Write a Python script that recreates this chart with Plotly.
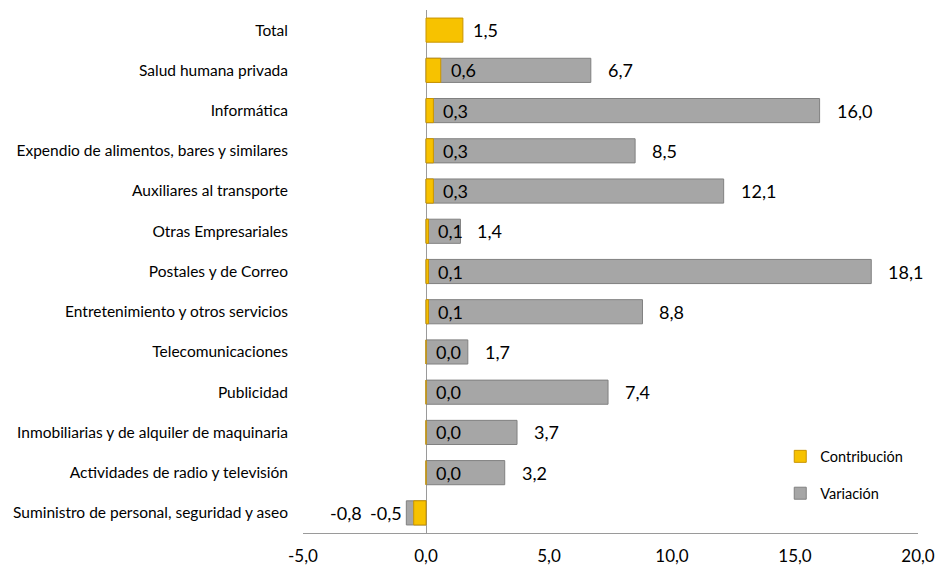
import plotly.graph_objects as go

categorias = [
    "Total",
    "Salud humana privada",
    "Informática",
    "Expendio de alimentos, bares y similares",
    "Auxiliares al transporte",
    "Otras Empresariales",
    "Postales y de Correo",
    "Entretenimiento y otros servicios",
    "Telecomunicaciones",
    "Publicidad",
    "Inmobiliarias y de alquiler de maquinaria",
    "Actividades de radio y televisión",
    "Suministro de personal, seguridad y aseo",
]
variacion = [None, 6.7, 16.0, 8.5, 12.1, 1.4, 18.1, 8.8, 1.7, 7.4, 3.7, 3.2, -0.8]
contribucion = [1.5, 0.6, 0.3, 0.3, 0.3, 0.1, 0.1, 0.1, 0.0, 0.0, 0.0, 0.0, -0.5]
x_ticks = [-5, 0, 5, 10, 15, 20]
x_ticktext = ["-5,0", "0,0", "5,0", "10,0", "15,0", "20,0"]

FONT = "Lato"

def fmt(v):
    return f"{v:.1f}".replace(".", ",")

fig = go.Figure()
fig.add_trace(go.Bar(
    y=categorias, x=variacion, orientation="h", name="Variación",
    marker=dict(color="#a6a6a6", line=dict(color="#808080", width=1)),
    width=0.6, legendgroup="v", legendrank=2,
))
fig.add_trace(go.Bar(
    y=categorias, x=contribucion, orientation="h", name="Contribución",
    marker=dict(color="#f7c200", line=dict(color="#c99400", width=1)),
    width=0.6, legendgroup="c", legendrank=1,
))

annotations = []
for cat, v, c in zip(categorias, variacion, contribucion):
    if c is not None:
        neg = c < 0
        annotations.append(dict(
            x=c, y=cat, xref="x", yref="y", text=fmt(c), showarrow=False,
            xanchor="right" if neg else "left", xshift=-10 if neg else 8,
            font=dict(family=FONT, size=18, color="#000"),
        ))
    if v is not None:
        neg = v < 0
        annotations.append(dict(
            x=v, y=cat, xref="x", yref="y", text=fmt(v), showarrow=False,
            xanchor="right" if neg else "left", xshift=-42 if neg else 15,
            font=dict(family=FONT, size=18, color="#000"),
        ))

fig.update_layout(
    width=951, height=572,
    margin=dict(l=303, r=33, t=10, b=39),
    barmode="overlay",
    plot_bgcolor="white", paper_bgcolor="white",
    font=dict(family=FONT, size=15, color="#000"),
    annotations=annotations,
    showlegend=True,
    legend=dict(x=0.776, y=0.177, xanchor="left", yanchor="top",
                font=dict(family=FONT, size=14.5), traceorder="grouped",
                tracegroupgap=15, bgcolor="rgba(0,0,0,0)",
                itemwidth=30),
    xaxis=dict(range=[-5, 20], tickvals=x_ticks, ticktext=x_ticktext,
               showgrid=False, zeroline=True, zerolinecolor="#9a9a9a",
               zerolinewidth=1, showline=True, linecolor="#9a9a9a",
               ticks="", ticklabelstandoff=8, automargin=False,
               tickfont=dict(family=FONT, size=17)),
    yaxis=dict(categoryorder="array", categoryarray=categorias,
               autorange="reversed", showgrid=False, ticks="",
               automargin=False,
               ticklabelstandoff=14, tickfont=dict(family=FONT, size=15.5)),
)

fig.write_html(
    "out.html",
    config={"displayModeBar": False},
    post_script="document.body.style.margin='0';document.body.style.overflow='hidden';",
)
